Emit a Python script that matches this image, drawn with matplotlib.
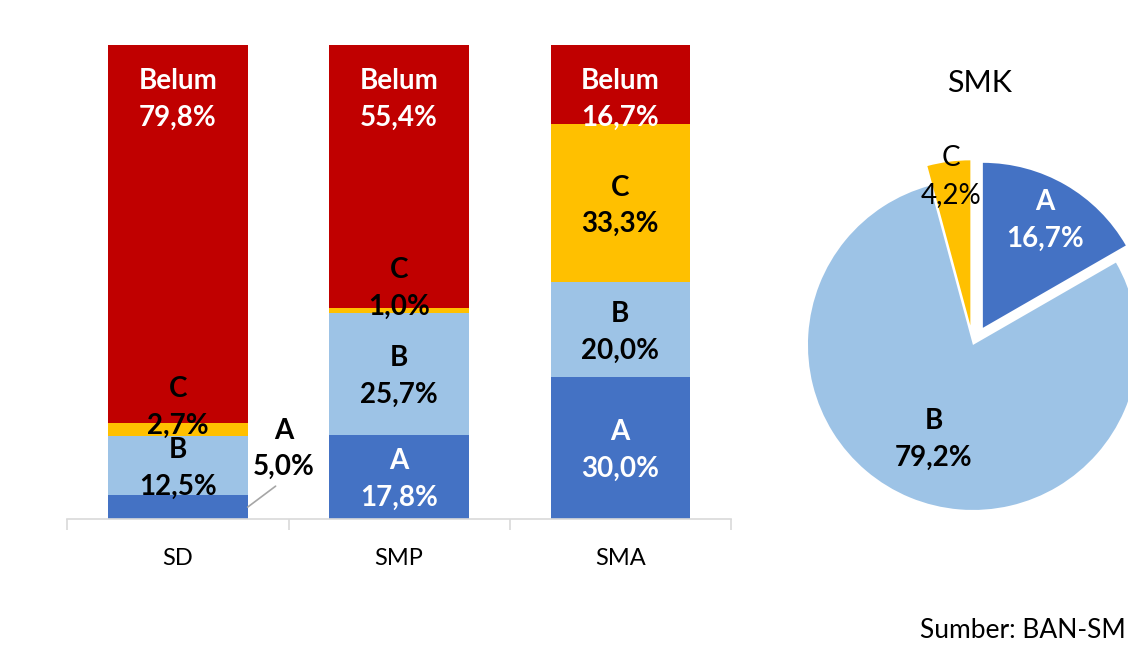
import matplotlib.pyplot as plt
import numpy as np

plt.rcParams['font.family'] = ['Lato', 'DejaVu Sans']

# data
levels = ['SD', 'SMP', 'SMA']
grades = ['A', 'B', 'C', 'Belum']
share_a = [5.0, 17.8, 30.0]
share_b = [12.5, 25.7, 20.0]
share_c = [2.7, 1.0, 33.3]
share_belum = [79.8, 55.4, 16.7]

smk_labels = ['A', 'B', 'C']
smk_values = [16.7, 79.2, 4.2]

colors = {'A': '#4472C4', 'B': '#9DC3E6', 'C': '#FFC000', 'Belum': '#C00000'}
FS = 20
LS = 1.5


def fmt(v):
    return f"{v:.1f}".replace('.', ',') + '%'


fig = plt.figure(figsize=(11.28, 6.51), dpi=100)

# stacked bars
ax = fig.add_axes([0.0598, 0.2028, 0.588, 0.7281])
x = np.arange(len(levels))
width = 0.63
bottom = np.zeros(len(levels))
for g, vals in zip(grades, [share_a, share_b, share_c, share_belum]):
    ax.bar(x, vals, width, bottom=bottom, color=colors[g], linewidth=0)
    for i, v in enumerate(vals):
        txt = f"{g}\n{fmt(v)}"
        tcol = 'white' if g in ('A', 'Belum') else 'black'
        if g == 'Belum':
            ax.annotate(txt, (i, bottom[i] + v), xytext=(0, -39), textcoords='offset points',
                        ha='center', va='center', fontsize=FS, fontweight='bold',
                        color=tcol, linespacing=LS)
        elif g == 'A' and v < 8:
            ax.annotate(txt, (i + width / 2, v / 2), xytext=(26, 42), textcoords='offset points',
                        ha='center', va='center', fontsize=FS, fontweight='bold',
                        color='black', linespacing=LS,
                        arrowprops=dict(arrowstyle='-', color='#A6A6A6', lw=1.2,
                                        shrinkA=4, shrinkB=0, relpos=(0.5, 0.0)))
        elif g == 'C' and v < 5:
            ax.annotate(txt, (i, bottom[i] + v / 2), xytext=(0, 16), textcoords='offset points',
                        ha='center', va='center', fontsize=FS, fontweight='bold',
                        color=tcol, linespacing=LS)
        else:
            ax.annotate(txt, (i, bottom[i] + v / 2), xytext=(0, -2), textcoords='offset points',
                        ha='center', va='center', fontsize=FS, fontweight='bold',
                        color=tcol, linespacing=LS)
    bottom += np.array(vals)

ax.set_xlim(-0.5, len(levels) - 0.5)
ax.set_ylim(0, 100)
for s in ['top', 'right', 'left']:
    ax.spines[s].set_visible(False)
ax.spines['bottom'].set_color('#D9D9D9')
ax.spines['bottom'].set_linewidth(1.2)
ax.set_yticks([])
ax.set_xticks(x)
ax.set_xticklabels(levels, fontsize=17)
ax.tick_params(axis='x', length=0, pad=21)
ax.set_xticks(np.arange(len(levels) + 1) - 0.5, minor=True)
ax.tick_params(axis='x', which='minor', length=8, color='#D9D9D9', width=1.2, direction='out')

# pie
pax = fig.add_axes([0.6724, 0.1406, 0.3803, 0.659])
wedges, _ = pax.pie(smk_values, colors=[colors[l] for l in smk_labels], startangle=90,
                    counterclock=False, explode=[0.12, 0, 0.12],
                    wedgeprops=dict(linewidth=0))
pax.set_xlim(-1.3, 1.3)
pax.set_ylim(-1.3, 1.3)
label_r = [0.75, 0.62, 0.91]
label_col = ['white', 'black', 'black']
label_wt = ['bold', 'bold', 'normal']
for w, lab, v, r, c, fw in zip(wedges, smk_labels, smk_values, label_r, label_col, label_wt):
    ang = np.deg2rad((w.theta1 + w.theta2) / 2)
    cx, cy = w.center
    pax.text(cx + r * np.cos(ang), cy + r * np.sin(ang), f"{lab}\n{fmt(v)}",
             ha='center', va='center', fontsize=FS, fontweight=fw, color=c, linespacing=LS)

fig.text(980 / 1128, 1 - 83 / 651, 'SMK', ha='center', va='center', fontsize=22)
fig.text(920 / 1128, 1 - 631 / 651, 'Sumber: BAN-SM', ha='left', va='center', fontsize=19)

fig.savefig('out.png', dpi=100)
